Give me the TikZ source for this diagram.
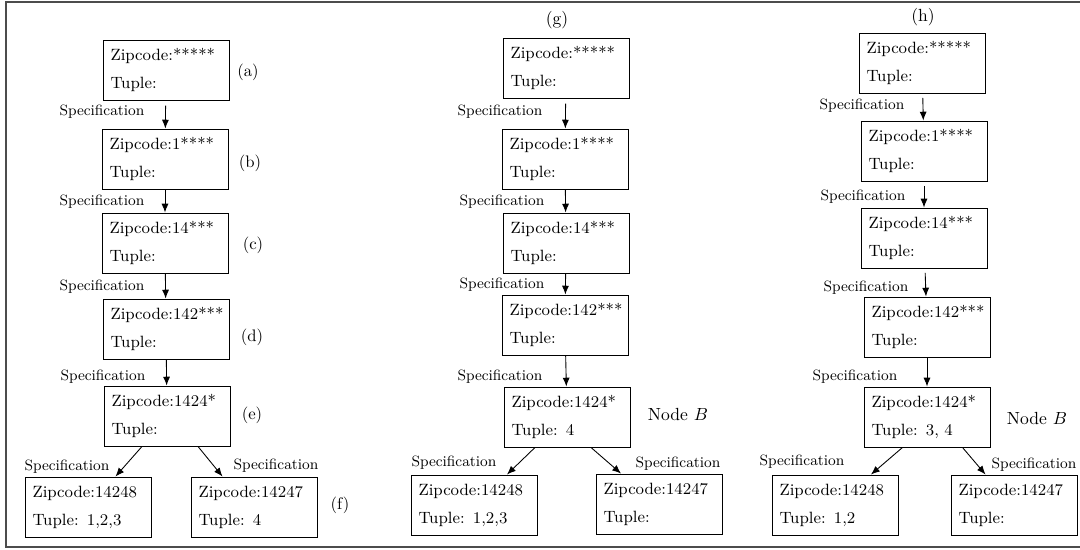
\documentclass[tikz,border=0pt]{standalone}
\usepackage{amsmath}
\usetikzlibrary{arrows.meta}

\tikzset{
  zipbox/.style={draw, line width=0.55pt, minimum width=2.52cm, minimum height=1.2cm,
    text width=2.22cm, inner xsep=0.15cm, align=left, font=\fontsize{9.3}{16}\selectfont},
  speclabel/.style={font=\fontsize{8.5}{10}\selectfont},
  steplabel/.style={font=\fontsize{9.5}{11}\selectfont},
  nodelabel/.style={font=\fontsize{10}{12}\selectfont},
  specarrow/.style={-{Latex[length=5pt, width=4pt]}, line width=0.5pt}
}

\begin{document}
\begin{tikzpicture}[x=0.02cm, y=-0.02cm]
            \useasboundingbox (0, 0) rectangle (1080, 550);
            \draw [black!70, line width=0.8pt] (1080, 2) -- (6, 2) -- (6, 547) -- (1080, 547);

            % left column
            \node[zipbox] at (166, 70)   (a1) {Zipcode:*****\\Tuple:};
            \node[zipbox] at (165, 159)  (a2) {Zipcode:1****\\Tuple:};
            \node[zipbox] at (165, 243)  (a3) {Zipcode:14***\\Tuple:};
            \node[zipbox] at (166, 329)  (a4) {Zipcode:142***\\Tuple:};
            \node[zipbox] at (167, 416)  (a5) {Zipcode:1424*\\Tuple:};
            \node[zipbox] at (88, 507)   (a6) {Zipcode:14248\\Tuple:\enspace 1,2,3};
            \node[zipbox] at (254, 507)  (a7) {Zipcode:14247\\Tuple:\enspace 4};

            \node[steplabel] at (248, 72)   (la) {(a)};
            \node[steplabel] at (250, 163)  (lb) {(b)};
            \node[steplabel] at (253, 245)  (lc) {(c)};
            \node[steplabel] at (252, 337)  (ld) {(d)};
            \node[steplabel] at (252, 415)  (le) {(e)};
            \node[steplabel] at (340, 505)  (lf) {(f)};

            \node[speclabel] at (102, 112)  (sa1) {Specification};
            \node[speclabel] at (102, 202)  (sa2) {Specification};
            \node[speclabel] at (102, 287)  (sa3) {Specification};
            \node[speclabel] at (103, 377)  (sa4) {Specification};
            \node[speclabel] at (67, 467)   (sa5) {Specification};
            \node[speclabel] at (276, 466)  (sa6) {Specification};

            \draw [specarrow, shorten <=3pt] (a1) -- (a2);
            \draw [specarrow] (a2) -- (a3);
            \draw [specarrow] (a3) -- (a4);
            \draw [specarrow] (a4) -- (a5);
            \draw [specarrow] ([xshift=-0.5cm]a5.south) -- ([xshift=0.55cm]a6.north);
            \draw [specarrow] ([xshift=0.62cm]a5.south) -- ([xshift=-0.63cm]a7.north);

            % middle column
            \node[nodelabel] at (557, 20)   (lg) {(g)};
            \node[zipbox] at (566, 68)   (g1) {Zipcode:*****\\Tuple:};
            \node[zipbox] at (565, 159)  (g2) {Zipcode:1****\\Tuple:};
            \node[zipbox] at (566, 243)  (g3) {Zipcode:14***\\Tuple:};
            \node[zipbox] at (565, 325)  (g4) {Zipcode:142***\\Tuple:};
            \node[zipbox] at (567, 417)  (g5) {Zipcode:1424*\\Tuple:\enspace 4};
            \node[zipbox] at (474, 505)  (g6) {Zipcode:14248\\Tuple:\enspace 1,2,3};
            \node[zipbox] at (659, 504)  (g7) {Zipcode:14247\\Tuple:};
            \node[nodelabel] at (678, 415)  (nbg) {Node $B$};

            \node[speclabel] at (500, 112)  (sg1) {Specification};
            \node[speclabel] at (502, 202)  (sg2) {Specification};
            \node[speclabel] at (502, 285)  (sg3) {Specification};
            \node[speclabel] at (500, 377)  (sg4) {Specification};
            \node[speclabel] at (454, 463)  (sg5) {Specification};
            \node[speclabel] at (678, 464)  (sg6) {Specification};

            \draw [specarrow, shorten <=3pt] (g1) -- (g2);
            \draw [specarrow] (g2) -- (g3);
            \draw [specarrow] (g3) -- (g4);
            \draw [specarrow] (g4) -- (g5);
            \draw [specarrow] ([xshift=-0.64cm]g5.south) -- ([xshift=0.66cm]g6.north);
            \draw [specarrow] ([xshift=0.48cm]g5.south) -- ([xshift=-0.76cm]g7.north);

            % right column
            \node[nodelabel] at (923, 17)   (lh) {(h)};
            \node[zipbox] at (922, 63)   (h1) {Zipcode:*****\\Tuple:};
            \node[zipbox] at (924, 151)  (h2) {Zipcode:1****\\Tuple:};
            \node[zipbox] at (924, 238)  (h3) {Zipcode:14***\\Tuple:};
            \node[zipbox] at (927, 327)  (h4) {Zipcode:142***\\Tuple:};
            \node[zipbox] at (927, 417)  (h5) {Zipcode:1424*\\Tuple:\enspace 3, 4};
            \node[zipbox] at (835, 505)  (h6) {Zipcode:14248\\Tuple:\enspace 1,2};
            \node[zipbox] at (1014, 505) (h7) {Zipcode:14247\\Tuple:};
            \node[nodelabel] at (1037, 419) (nbh) {Node $B$};

            \node[speclabel] at (862, 106)  (sh1) {Specification};
            \node[speclabel] at (863, 197)  (sh2) {Specification};
            \node[speclabel] at (866, 288)  (sh3) {Specification};
            \node[speclabel] at (855, 377)  (sh4) {Specification};
            \node[speclabel] at (802, 462)  (sh5) {Specification};
            \node[speclabel] at (1034, 465) (sh6) {Specification};

            \draw [specarrow, shorten <=2.5pt] (h1) -- (h2);
            \draw [specarrow, shorten <=2.5pt] (h2) -- (h3);
            \draw [specarrow, shorten <=2.5pt] (h3) -- (h4);
            \draw [specarrow] (h4) -- (h5);
            \draw [specarrow] ([xshift=-0.49cm]h5.south) -- ([xshift=0.72cm]h6.north);
            \draw [specarrow] ([xshift=0.71cm]h5.south) -- ([xshift=-0.57cm]h7.north);
        \end{tikzpicture}
\end{document}
